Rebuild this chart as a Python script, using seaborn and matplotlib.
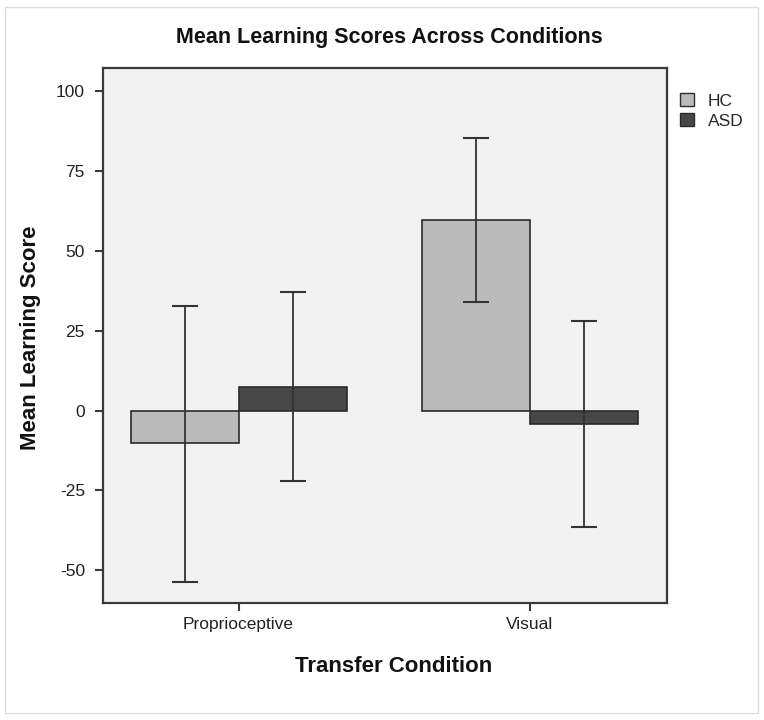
import matplotlib
matplotlib.use("Agg")
import matplotlib.pyplot as plt
from matplotlib.patches import Rectangle, Patch
import seaborn as sns
import pandas as pd
import numpy as np

conditions = ["Proprioceptive", "Visual"]
groups = ["HC", "ASD"]
hc_means = [-10.3, 59.7]
asd_means = [7.5, -4.1]
hc_upper = [32.8, 85.3]
hc_lower = [-53.8, 34.1]
asd_upper = [37.2, 28.1]
asd_lower = [-22.2, -36.6]
yticks = [-50, -25, 0, 25, 50, 75, 100]

colors = {"HC": "#bbbbbb", "ASD": "#474747"}

df = pd.DataFrame({
    "condition": conditions * 2,
    "group": ["HC"] * len(conditions) + ["ASD"] * len(conditions),
    "score": hc_means + asd_means,
})

sns.set_style("white")
plt.rcParams["font.family"] = ["Liberation Sans", "DejaVu Sans"]

fig = plt.figure(figsize=(7.64, 7.2), dpi=100)
ax = fig.add_axes([103 / 764, 1 - 603 / 720, (667 - 103) / 764, (603 - 68) / 720])
ax.set_facecolor("#f2f2f2")

sns.barplot(data=df, x="condition", y="score", hue="group", order=conditions,
            hue_order=groups, palette=colors, width=0.742, gap=0,
            errorbar=None, edgecolor="#2b2b2b", linewidth=1.2, ax=ax, legend=False)

uppers = [hc_upper, asd_upper]
lowers = [hc_lower, asd_lower]
for cont, up, lo in zip(ax.containers, uppers, lowers):
    for bar, u, l in zip(cont, up, lo):
        xc = bar.get_x() + bar.get_width() / 2
        mid = (u + l) / 2
        ax.errorbar([xc], [mid], yerr=[[mid - l], [u - mid]], fmt="none",
                    ecolor="#333333", elinewidth=1.3, capsize=9.5, capthick=1.5, zorder=5)

ax.set_xlim(-0.466, 1.472)
ax.set_ylim(-60.3, 107.3)
ax.set_yticks(yticks)
ax.set_yticklabels([str(v) for v in yticks])
ax.set_xlabel("")
ax.set_ylabel("")
for s in ax.spines.values():
    s.set_color("#3a3a3a")
    s.set_linewidth(1.6)
ax.tick_params(axis="both", which="major", length=6, width=1.5, color="#3a3a3a",
               labelsize=12.5, labelcolor="#222222", pad=4, left=True, bottom=True)
ax.tick_params(axis="y", pad=7)

fig.text(389 / 764, 1 - 37 / 720, "Mean Learning Scores Across Conditions",
         ha="center", va="center", fontsize=15.5, fontweight="bold", color="#111111")
fig.text(31 / 764, 1 - 338 / 720, "Mean Learning Score", rotation=90,
         ha="center", va="center", fontsize=16, fontweight="bold", color="#111111")
fig.text(394 / 764, 1 - 666 / 720, "Transfer Condition",
         ha="center", va="center", fontsize=16, fontweight="bold", color="#111111")

handles = [Patch(facecolor=colors[g], edgecolor="#2b2b2b", linewidth=1, label=g) for g in groups]
fig.legend(handles=handles, loc="upper left", bbox_to_anchor=(673 / 764, 1 - 86 / 720),
           frameon=False, fontsize=12.5, handlelength=0.8, handleheight=0.8,
           handletextpad=0.8, labelspacing=0.25, borderaxespad=0)

fig.patches.append(Rectangle((5 / 764, 7 / 720), 753 / 764, 706 / 720, transform=fig.transFigure,
                             fill=False, edgecolor="#dddddd", linewidth=1))

fig.savefig("out.png", dpi=100)
